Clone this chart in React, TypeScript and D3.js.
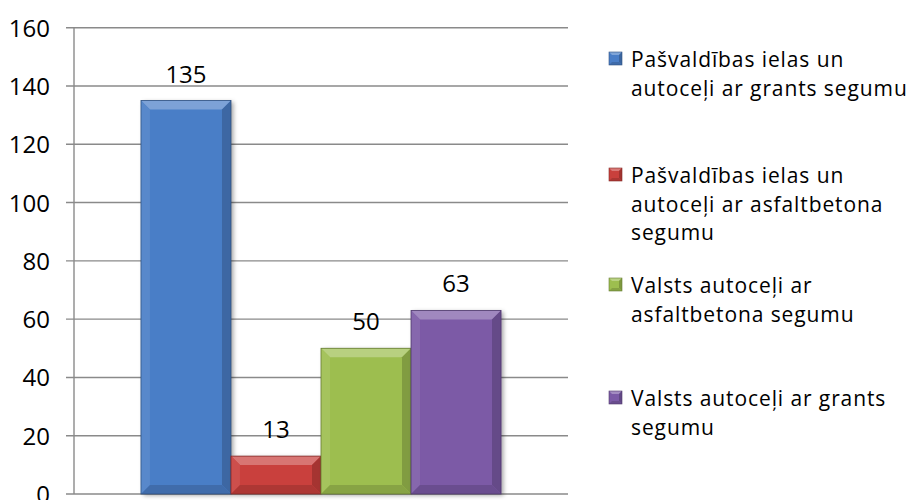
import * as d3 from 'd3';

// Chart data
const seriesNames = [
  'Pašvaldības ielas un autoceļi ar grants segumu',
  'Pašvaldības ielas un autoceļi ar asfaltbetona segumu',
  'Valsts autoceļi ar asfaltbetona segumu',
  'Valsts autoceļi ar grants segumu',
];
const seriesValues = [135, 13, 50, 63];
const seriesColors = ['#4A7EC7', '#C9403C', '#9DBE4F', '#7B5AA6'];
const yTicks = [0, 20, 40, 60, 80, 100, 120, 140, 160];
// legend text as wrapped in the picture
const legendLines = [
  ['Pašvaldības ielas un', 'autoceļi ar grants segumu'],
  ['Pašvaldības ielas un', 'autoceļi ar asfaltbetona', 'segumu'],
  ['Valsts autoceļi ar', 'asfaltbetona segumu'],
  ['Valsts autoceļi ar grants', 'segumu'],
];

const W = 915;
const H = 500;
const plot = { left: 74, right: 568, top: 27.7, bottom: 494 };
const legendX = 609;
const legendBaselines = [67, 183, 293, 406];
const lineH = 28.7;
const font = '"Open Sans", "DejaVu Sans", sans-serif';

export default function App() {
  const y = d3.scaleLinear().domain([0, 160]).range([plot.bottom, plot.top]);
  const x = d3
    .scaleBand<string>()
    .domain(seriesNames)
    .range([plot.left, plot.right])
    .paddingInner(0)
    .paddingOuter(0.744);

  const bevel = 9;
  const pts = (p: number[][]) => p.map((d) => d.join(',')).join(' ');

  return (
    <svg
      width={W}
      height={H}
      style={{ position: 'absolute', left: 0, top: 0, background: '#fff' }}
      fontFamily={font}
    >
      <defs>
        <filter id="shadow" x="-20%" y="-20%" width="140%" height="140%">
          <feDropShadow dx="2.5" dy="1.5" stdDeviation="2" floodColor="#000" floodOpacity="0.35" />
        </filter>
      </defs>

      {/* gridlines */}
      {yTicks.map((t) => (
        <line
          key={'g' + t}
          x1={plot.left - 8}
          x2={plot.right}
          y1={y(t)}
          y2={y(t)}
          stroke="#8a8a8a"
          strokeWidth={1.4}
        />
      ))}
      {/* y axis */}
      <line x1={plot.left} x2={plot.left} y1={plot.top} y2={plot.bottom} stroke="#8a8a8a" strokeWidth={1.4} />
      {yTicks.map((t) => (
        <text key={'t' + t} x={50} y={y(t) + 9} textAnchor="end" fontSize={24} fill="#000">
          {t}
        </text>
      ))}

      {/* bars */}
      {seriesNames.map((name, i) => {
        const x0 = x(name)!;
        const x1 = x0 + x.bandwidth();
        const y0 = y(seriesValues[i]);
        const y1 = y(0);
        const b = Math.min(bevel, (y1 - y0) / 2);
        const face = seriesColors[i];
        const light = d3.interpolateRgb(face, '#fff');
        const dark = d3.interpolateRgb(face, '#000');
        return (
          <g key={name}>
            <rect x={x0} y={y0} width={x1 - x0} height={y1 - y0} fill={face} filter="url(#shadow)" />
            <polygon points={pts([[x0, y0], [x1, y0], [x1 - b, y0 + b], [x0 + b, y0 + b]])} fill={light(0.28)} />
            <polygon points={pts([[x0, y0], [x0 + b, y0 + b], [x0 + b, y1 - b], [x0, y1]])} fill={light(0.08)} />
            <polygon points={pts([[x1, y0], [x1, y1], [x1 - b, y1 - b], [x1 - b, y0 + b]])} fill={dark(0.18)} />
            <polygon points={pts([[x0, y1], [x1, y1], [x1 - b, y1 - b], [x0 + b, y1 - b]])} fill={dark(0.14)} />
            <rect
              x={x0}
              y={y0}
              width={x1 - x0}
              height={y1 - y0}
              fill="none"
              stroke={dark(0.35)}
              strokeWidth={0.8}
            />
            <text x={(x0 + x1) / 2} y={y0 - 18} textAnchor="middle" fontSize={24} fill="#000">
              {seriesValues[i]}
            </text>
          </g>
        );
      })}

      {/* legend */}
      {legendLines.map((lines, i) => {
        const base = legendBaselines[i];
        const face = seriesColors[i];
        const light = d3.interpolateRgb(face, '#fff');
        const dark = d3.interpolateRgb(face, '#000');
        const m0 = legendX;
        const m1 = legendX + 13;
        const t0 = base - 15;
        const t1 = t0 + 13;
        const b = 3;
        return (
          <g key={'l' + i}>
            <rect x={m0} y={t0} width={13} height={13} fill={face} />
            <polygon points={pts([[m0, t0], [m1, t0], [m1 - b, t0 + b], [m0 + b, t0 + b]])} fill={light(0.3)} />
            <polygon points={pts([[m1, t0], [m1, t1], [m1 - b, t1 - b], [m1 - b, t0 + b]])} fill={dark(0.2)} />
            <polygon points={pts([[m0, t1], [m1, t1], [m1 - b, t1 - b], [m0 + b, t1 - b]])} fill={dark(0.15)} />
            <rect x={m0} y={t0} width={13} height={13} fill="none" stroke={dark(0.35)} strokeWidth={0.6} />
            <text x={631} y={base} fontSize={21} letterSpacing={0.9} fill="#000">
              {lines.map((ln, j) => (
                <tspan key={j} x={631} y={base + j * lineH}>
                  {ln}
                </tspan>
              ))}
            </text>
          </g>
        );
      })}
    </svg>
  );
}
